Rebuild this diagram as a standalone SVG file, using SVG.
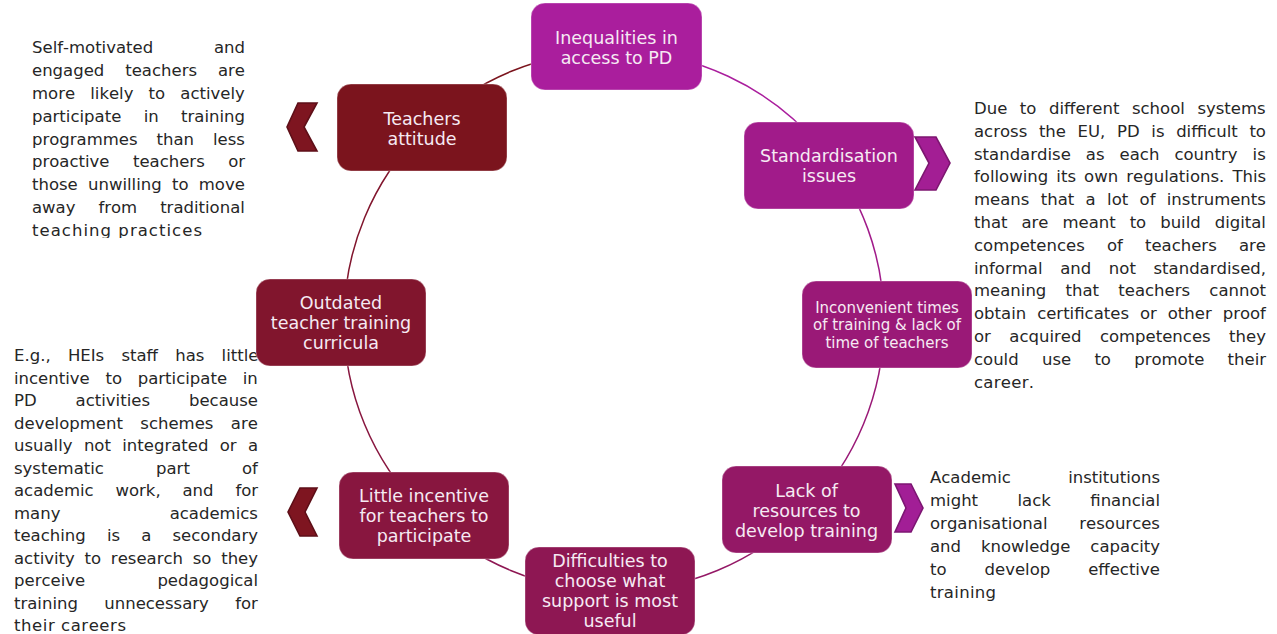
<svg xmlns="http://www.w3.org/2000/svg" width="1277" height="634" viewBox="0 0 1277 634">
  <defs>
    <style>
      .body { font-family: "DejaVu Sans", "Liberation Sans", sans-serif; font-size: 16.5px; fill: #262626; font-kerning: none; }
      .lbl { font-family: "DejaVu Sans", "Liberation Sans", sans-serif; font-size: 17.5px; fill: #F6EAF3; text-anchor: middle; }
      .lbl.sm { font-size: 15px; }
      .box { stroke: #ffffff; stroke-opacity: 0.35; stroke-width: 1; }
      .arc { fill: none; stroke-width: 1.5; }
      .chev { stroke-width: 1.6; stroke-linejoin: miter; }
    </style>
    <clipPath id="clipTop">
      <rect x="0" y="0" width="300" height="238"/>
    </clipPath>
  </defs>

  <rect width="1277" height="634" fill="#ffffff"/>

  <!-- cycle connectors: one arc per step, coloured like the step it leaves -->
  <g id="connectors">
    <path class="arc" stroke="#AA1E9D" d="M614,51 A270,270 0 0 1 820.8,147.4"/>
    <path class="arc" stroke="#A11B8A" d="M820.8,147.4 A270,270 0 0 1 884,321"/>
    <path class="arc" stroke="#9A1977" d="M884,321 A270,270 0 0 1 804.9,511.9"/>
    <path class="arc" stroke="#941866" d="M804.9,511.9 A270,270 0 0 1 614,591"/>
    <path class="arc" stroke="#8E1753" d="M614,591 A270,270 0 0 1 423.1,511.9"/>
    <path class="arc" stroke="#88163F" d="M423.1,511.9 A270,270 0 0 1 344,321"/>
    <path class="arc" stroke="#81152D" d="M344,321 A270,270 0 0 1 423.1,130.1"/>
    <path class="arc" stroke="#7B141D" d="M423.1,130.1 A270,270 0 0 1 614,51"/>
  </g>

  <!-- explanatory notes; justified lines get their word-spacing per line -->
  <g id="note-attitude" clip-path="url(#clipTop)">
    <text class="body" x="32" y="53" style="word-spacing:55.5px">Self-motivated and</text>
    <text class="body" x="32" y="75.9" style="word-spacing:15.7px">engaged teachers are</text>
    <text class="body" x="32" y="98.8" style="word-spacing:9.9px">more likely to actively</text>
    <text class="body" x="32" y="121.6" style="word-spacing:17.1px">participate in training</text>
    <text class="body" x="32" y="144.5" style="word-spacing:13.7px">programmes than less</text>
    <text class="body" x="32" y="167.4" style="word-spacing:18.2px">proactive teachers or</text>
    <text class="body" x="32" y="190.3" style="word-spacing:5px">those unwilling to move</text>
    <text class="body" x="32" y="213.2" style="word-spacing:17.7px">away from traditional</text>
    <text class="body" x="32" y="236" textLength="170" lengthAdjust="spacing">teaching practices</text>
  </g>

  <g id="note-incentive">
    <text class="body" x="14" y="361" style="word-spacing:12px">E.g., HEIs staff has little</text>
    <text class="body" x="14" y="383.5" style="word-spacing:10.5px">incentive to participate in</text>
    <text class="body" x="14" y="406" style="word-spacing:33.7px">PD activities because</text>
    <text class="body" x="14" y="428.5" style="word-spacing:12.2px">development schemes are</text>
    <text class="body" x="14" y="451" style="word-spacing:6.1px">usually not integrated or a</text>
    <text class="body" x="14" y="473.5" style="word-spacing:46.9px">systematic part of</text>
    <text class="body" x="14" y="496" style="word-spacing:16.6px">academic work, and for</text>
    <text class="body" x="14" y="518.5" style="word-spacing:104px">many academics</text>
    <text class="body" x="14" y="541" style="word-spacing:15.9px">teaching is a secondary</text>
    <text class="body" x="14" y="563.5" style="word-spacing:4.5px">activity to research so they</text>
    <text class="body" x="14" y="586" style="word-spacing:67px">perceive pedagogical</text>
    <text class="body" x="14" y="608.5" style="word-spacing:21.1px">training unnecessary for</text>
    <text class="body" x="14" y="631" textLength="112" lengthAdjust="spacing">their careers</text>
  </g>

  <g id="note-standardisation">
    <text class="body" x="974" y="114" style="word-spacing:7.3px">Due to different school systems</text>
    <text class="body" x="974" y="136.8" style="word-spacing:6.4px">across the EU, PD is difficult to</text>
    <text class="body" x="974" y="159.6" style="word-spacing:9.8px">standardise as each country is</text>
    <text class="body" x="974" y="182.4" style="word-spacing:2.9px">following its own regulations. This</text>
    <text class="body" x="974" y="205.2" style="word-spacing:6.1px">means that a lot of instruments</text>
    <text class="body" x="974" y="228" style="word-spacing:8.7px">that are meant to build digital</text>
    <text class="body" x="974" y="250.8" style="word-spacing:16.9px">competences of teachers are</text>
    <text class="body" x="974" y="273.6" style="word-spacing:12.4px">informal and not standardised,</text>
    <text class="body" x="974" y="296.4" style="word-spacing:14px">meaning that teachers cannot</text>
    <text class="body" x="974" y="319.2" style="word-spacing:5.7px">obtain certificates or other proof</text>
    <text class="body" x="974" y="342" style="word-spacing:13.2px">or acquired competences they</text>
    <text class="body" x="974" y="364.8" style="word-spacing:18px">could use to promote their</text>
    <text class="body" x="974" y="387.6" textLength="60" lengthAdjust="spacing">career.</text>
  </g>

  <g id="note-resources">
    <text class="body" x="930" y="483" style="word-spacing:52.1px">Academic institutions</text>
    <text class="body" x="930" y="506" style="word-spacing:34.2px">might lack financial</text>
    <text class="body" x="930" y="529" style="word-spacing:26.5px">organisational resources</text>
    <text class="body" x="930" y="552" style="word-spacing:14.7px">and knowledge capacity</text>
    <text class="body" x="930" y="575" style="word-spacing:32.7px">to develop effective</text>
    <text class="body" x="930" y="598" textLength="66" lengthAdjust="spacing">training</text>
  </g>

  <!-- cycle steps -->
  <g id="node-inequalities">
    <rect class="box" x="531" y="3" width="171" height="87" rx="14" fill="#AA1E9D"/>
    <text class="lbl" x="616.5" y="44">Inequalities in</text>
    <text class="lbl" x="616.5" y="64">access to PD</text>
  </g>

  <g id="node-standardisation">
    <rect class="box" x="744" y="122" width="170" height="87" rx="14" fill="#A11B8A"/>
    <text class="lbl" x="829" y="162">Standardisation</text>
    <text class="lbl" x="829" y="182">issues</text>
    <polygon class="chev" points="915,137 936,137 950,163 936,190 915,190 929,163" fill="#A31E94" stroke="#7D1670"/>
  </g>

  <g id="node-inconvenient">
    <rect class="box" x="802" y="281" width="170" height="87" rx="14" fill="#9A1977"/>
    <text class="lbl sm" x="887" y="312.5">Inconvenient times</text>
    <text class="lbl sm" x="887" y="330">of training &amp; lack of</text>
    <text class="lbl sm" x="887" y="347.5">time of teachers</text>
  </g>

  <g id="node-resources">
    <rect class="box" x="722" y="466" width="170" height="87" rx="14" fill="#941866"/>
    <text class="lbl" x="806.5" y="496.5">Lack of</text>
    <text class="lbl" x="806.5" y="516.5">resources to</text>
    <text class="lbl" x="806.5" y="536.5">develop training</text>
    <polygon class="chev" points="895,484 911,484 923,508 911,532 895,532 906,508" fill="#A21E96" stroke="#7D1673"/>
  </g>

  <g id="node-difficulties">
    <rect class="box" x="525" y="547" width="170" height="88" rx="14" fill="#8E1753"/>
    <text class="lbl" x="610" y="567">Difficulties to</text>
    <text class="lbl" x="610" y="587">choose what</text>
    <text class="lbl" x="610" y="607">support is most</text>
    <text class="lbl" x="610" y="627">useful</text>
  </g>

  <g id="node-incentive">
    <rect class="box" x="339" y="472" width="170" height="87" rx="14" fill="#88163F"/>
    <text class="lbl" x="424" y="502">Little incentive</text>
    <text class="lbl" x="424" y="522">for teachers to</text>
    <text class="lbl" x="424" y="542">participate</text>
    <polygon class="chev" points="300,488 317,488 305,512 317,536 300,536 288,512" fill="#7E1520" stroke="#5E0F18"/>
  </g>

  <g id="node-curricula">
    <rect class="box" x="256" y="279" width="170" height="87" rx="14" fill="#81152D"/>
    <text class="lbl" x="341" y="309">Outdated</text>
    <text class="lbl" x="341" y="329">teacher training</text>
    <text class="lbl" x="341" y="349">curricula</text>
  </g>

  <g id="node-attitude">
    <rect class="box" x="337" y="84" width="170" height="87" rx="14" fill="#7B141D"/>
    <text class="lbl" x="422" y="125">Teachers</text>
    <text class="lbl" x="422" y="145">attitude</text>
    <polygon class="chev" points="298,103 317,103 304,127 317,151 298,151 287,127" fill="#7E1520" stroke="#5E0F18"/>
  </g>
</svg>
